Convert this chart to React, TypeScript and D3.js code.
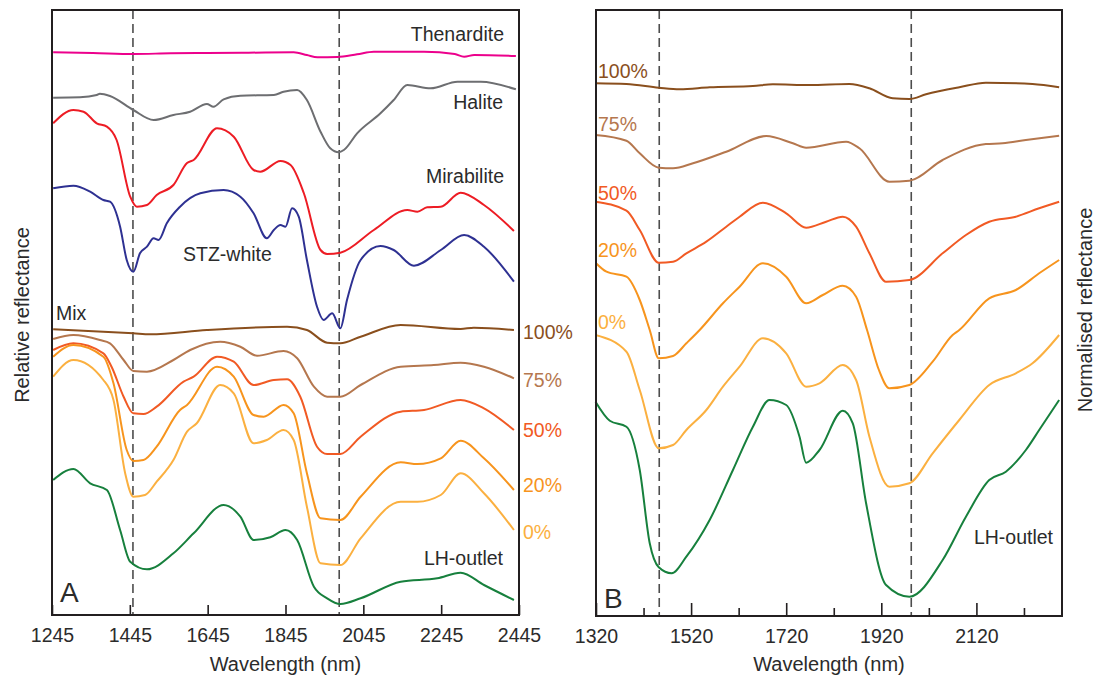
import { useEffect, useRef } from 'react';
import * as d3 from 'd3';

// ---- panel A: relative reflectance (offset, arbitrary units) ----
const thenarditeNm = [1248, 1350, 1454, 1550, 1643, 1750, 1866, 1900, 1927, 1978, 2029, 2072, 2201, 2280, 2304, 2330, 2437];
const thenarditeR = [56.27, 56.2, 56.1, 56.17, 56.2, 56.23, 56.27, 56.0, 55.77, 55.8, 56.07, 56.33, 56.33, 56.1, 55.83, 56.0, 55.9];

const haliteNm = [1248, 1317, 1360, 1368, 1394, 1454, 1506, 1557, 1600, 1643, 1660, 1686, 1729, 1815, 1840, 1875, 1900, 1935, 1960, 1982, 1995, 2029, 2089, 2123, 2158, 2218, 2287, 2347, 2437];
const haliteR = [51.73, 51.77, 52.0, 52.13, 51.9, 50.5, 49.5, 50.0, 50.33, 51.1, 50.83, 51.57, 51.93, 52.0, 52.33, 52.5, 51.5, 48.33, 46.67, 46.27, 46.5, 48.17, 50.17, 51.5, 53.0, 52.67, 53.33, 53.33, 52.57];

const mirabiliteNm = [1248, 1300, 1326, 1360, 1386, 1411, 1446, 1463, 1489, 1514, 1557, 1592, 1609, 1669, 1712, 1763, 1780, 1832, 1858, 1892, 1935, 1952, 1986, 2072, 2158, 2184, 2209, 2244, 2295, 2355, 2432];
const mirabiliteR = [49.17, 50.5, 50.33, 49.17, 48.83, 47.5, 41.83, 40.83, 41.0, 42.0, 43.0, 45.2, 45.5, 48.67, 47.83, 44.5, 44.33, 45.4, 45.0, 42.2, 36.5, 36.1, 36.23, 38.5, 40.5, 40.33, 40.77, 40.83, 42.23, 41.0, 38.4];

const stzNm = [1248, 1300, 1343, 1377, 1394, 1420, 1437, 1454, 1471, 1489, 1506, 1519, 1540, 1574, 1626, 1686, 1729, 1763, 1797, 1815, 1832, 1845, 1862, 1879, 1900, 1926, 1943, 1965, 1986, 2003, 2038, 2089, 2123, 2175, 2244, 2304, 2355, 2432];
const stzR = [42.67, 42.93, 42.33, 41.5, 41.33, 38.83, 35.5, 34.33, 36.17, 36.83, 37.67, 37.5, 39.17, 40.83, 42.17, 42.5, 41.83, 40.17, 37.67, 38.5, 39.0, 38.83, 40.67, 39.83, 35.5, 30.83, 29.5, 30.17, 28.67, 31.5, 35.5, 36.9, 36.5, 34.93, 36.5, 38.0, 36.83, 33.33];

const mix100Nm = [1248, 1454, 1497, 1643, 1849, 1900, 1952, 1986, 2038, 2141, 2295, 2329, 2432];
const mix100R = [28.57, 28.17, 28.07, 28.5, 28.83, 28.5, 27.23, 27.17, 27.83, 29.0, 28.6, 28.73, 28.5];

const mix75Nm = [1248, 1300, 1368, 1394, 1429, 1454, 1489, 1557, 1600, 1677, 1729, 1772, 1840, 1875, 1918, 1952, 1986, 2038, 2141, 2226, 2295, 2355, 2432];
const mix75R = [27.6, 28.0, 27.5, 27.17, 25.5, 24.4, 24.33, 25.5, 26.5, 27.33, 26.83, 25.93, 26.4, 25.67, 22.83, 21.83, 21.83, 23.0, 24.83, 25.0, 25.23, 24.83, 23.67];

const mix50Nm = [1248, 1300, 1377, 1398, 1429, 1454, 1480, 1514, 1583, 1609, 1669, 1712, 1763, 1815, 1849, 1883, 1926, 1952, 1986, 2038, 2141, 2201, 2295, 2355, 2432];
const mix50R = [26.5, 27.17, 26.17, 24.83, 21.83, 20.17, 20.1, 20.83, 23.33, 23.83, 25.83, 25.33, 23.0, 23.5, 23.57, 21.83, 16.83, 16.1, 16.1, 17.83, 20.33, 20.5, 21.5, 20.67, 18.5];

const mix20Nm = [1248, 1300, 1377, 1403, 1437, 1454, 1480, 1514, 1574, 1592, 1669, 1712, 1763, 1789, 1840, 1866, 1900, 1935, 1986, 2038, 2141, 2184, 2244, 2295, 2355, 2432];
const mix20R = [25.83, 27.0, 25.83, 23.17, 16.5, 15.4, 15.5, 16.83, 20.5, 21.0, 24.83, 23.83, 20.0, 19.83, 21.0, 20.17, 14.17, 9.67, 9.5, 11.83, 15.27, 15.1, 15.67, 17.43, 15.67, 12.5];

const mix0Nm = [1248, 1300, 1377, 1403, 1433, 1454, 1484, 1514, 1557, 1592, 1617, 1677, 1712, 1763, 1797, 1840, 1866, 1900, 1935, 1986, 2038, 2141, 2184, 2244, 2295, 2355, 2432];
const mix0R = [23.83, 25.5, 23.5, 21.5, 14.17, 11.83, 12.0, 13.33, 15.5, 18.33, 19.17, 23.0, 22.17, 17.17, 17.5, 18.5, 17.5, 10.83, 5.17, 5.0, 7.67, 11.33, 11.33, 12.0, 14.17, 12.17, 8.5];

const lhANm = [1248, 1300, 1343, 1386, 1420, 1446, 1489, 1557, 1609, 1686, 1729, 1763, 1806, 1845, 1875, 1918, 1952, 1986, 2038, 2141, 2235, 2295, 2355, 2432];
const lhAR = [13.5, 14.6, 13.17, 12.5, 8.5, 5.33, 4.57, 6.17, 8.17, 11.0, 9.83, 7.5, 7.77, 8.5, 7.5, 2.83, 1.67, 1.1, 1.67, 3.33, 3.67, 4.23, 3.0, 1.5];

// ---- panel B: normalised reflectance ----
const b100Nm = [1319, 1384, 1452, 1496, 1559, 1650, 1692, 1769, 1853, 1895, 1944, 1979, 2014, 2084, 2140, 2238, 2294];
const b100R = [53.27, 53.2, 52.83, 52.67, 52.87, 53.0, 53.17, 53.1, 53.2, 52.77, 51.77, 51.7, 52.17, 52.87, 53.33, 53.2, 52.87];

const b75Nm = [1319, 1384, 1412, 1452, 1482, 1524, 1594, 1678, 1734, 1762, 1846, 1874, 1937, 1979, 2049, 2140, 2175, 2224, 2294];
const b75R = [48.1, 47.53, 46.27, 44.83, 44.77, 45.27, 46.43, 48.0, 47.27, 46.83, 47.43, 46.77, 43.43, 43.53, 45.6, 47.2, 47.27, 47.6, 48.03];

const b50Nm = [1319, 1384, 1412, 1452, 1482, 1510, 1552, 1594, 1622, 1671, 1720, 1762, 1804, 1839, 1867, 1895, 1930, 1979, 2049, 2098, 2147, 2203, 2252, 2294];
const b50R = [41.43, 40.53, 38.6, 35.33, 35.43, 36.27, 37.43, 38.93, 39.93, 41.33, 40.27, 38.83, 39.43, 39.93, 38.93, 36.27, 33.43, 33.6, 36.27, 38.1, 39.43, 39.93, 40.77, 41.43];

const b20Nm = [1319, 1342, 1384, 1412, 1433, 1452, 1482, 1510, 1538, 1587, 1622, 1671, 1720, 1762, 1797, 1839, 1867, 1890, 1915, 1937, 1979, 2028, 2070, 2084, 2147, 2203, 2252, 2294];
const b20R = [35.33, 34.43, 33.93, 31.6, 28.6, 25.77, 26.0, 27.27, 28.6, 31.27, 32.93, 35.27, 33.93, 31.27, 32.1, 33.03, 31.93, 28.6, 24.6, 22.77, 23.1, 25.43, 28.1, 28.6, 31.77, 32.6, 34.27, 35.6];

const b0Nm = [1319, 1384, 1412, 1452, 1482, 1510, 1552, 1587, 1622, 1671, 1720, 1762, 1790, 1839, 1867, 1895, 1937, 1979, 2028, 2084, 2147, 2203, 2238, 2294];
const b0R = [28.1, 26.43, 22.6, 16.77, 17.1, 18.6, 20.6, 22.93, 24.93, 27.77, 26.27, 22.93, 23.27, 25.1, 23.6, 17.93, 12.93, 13.27, 16.27, 19.6, 23.1, 24.27, 25.27, 28.1];

const lhBNm = [1319, 1349, 1384, 1412, 1433, 1452, 1479, 1510, 1559, 1608, 1650, 1685, 1720, 1748, 1762, 1790, 1839, 1860, 1888, 1930, 1979, 2049, 2098, 2147, 2182, 2224, 2252, 2294];
const lhBR = [21.43, 19.53, 18.93, 14.6, 7.27, 4.87, 4.27, 5.93, 9.6, 14.6, 18.93, 21.6, 21.1, 17.93, 15.33, 16.6, 20.53, 19.27, 11.27, 3.1, 1.93, 5.6, 9.93, 13.6, 14.43, 16.6, 18.6, 21.6];

const ticksA = [1245, 1445, 1645, 1845, 2045, 2245, 2445];
const ticksB = [1320, 1520, 1720, 1920, 2120];
const minorB = [1420, 1620, 1820, 2020, 2220];
const bands = [1453, 1983];
const mixLabels = ['100%', '75%', '50%', '20%', '0%'];

const C = {
  then: '#ec008c', hal: '#6d6e71', mir: '#ed1c24', stz: '#2e3192',
  m100: '#8a4f1d', m75: '#b5774e', m50: '#f15a24', m20: '#f7941d', m0: '#fbb040',
  lh: '#17803d', ink: '#231f20', txt: '#2b2b2b',
};
const mixColors = [C.m100, C.m75, C.m50, C.m20, C.m0];
const FONT = 'Liberation Sans, Arial, sans-serif';

const SpectraChart = () => {
  const ref = useRef(null);

  useEffect(() => {
    const svg = d3.select(ref.current);
    svg.selectAll('*').remove();

    const xA = d3.scaleLinear().domain([1245, 2445]).range([52, 519]);
    const yA = d3.scaleLinear().domain([0, 60.5]).range([615, 10]);
    const xB = d3.scaleLinear().domain([1320, 2300]).range([596, 1062]);
    const yB = d3.scaleLinear().domain([0, 60.6]).range([616, 10]);

    const drawSeries = (x, y, nm, r, color) => {
      const line = d3
        .line()
        .x((d) => x(d[0]))
        .y((d) => y(d[1]))
        .curve(d3.curveMonotoneX);
      svg
        .append('path')
        .attr('d', line(d3.zip(nm, r)))
        .attr('fill', 'none')
        .attr('stroke', color)
        .attr('stroke-width', 2)
        .attr('stroke-linejoin', 'round');
    };

    const text = (x, y, s, opts = {}) => {
      const t = svg
        .append('text')
        .attr('x', x)
        .attr('y', y)
        .attr('font-family', FONT)
        .attr('font-size', opts.size || 19.5)
        .attr('fill', opts.fill || C.txt)
        .attr('text-anchor', opts.anchor || 'start')
        .text(s);
      if (opts.rotate) t.attr('transform', `rotate(-90,${x},${y})`);
      return t;
    };

    // dashed band markers
    bands.forEach((b) => {
      [[xA, yA], [xB, yB]].forEach(([x, y]) => {
        svg
          .append('line')
          .attr('x1', x(b))
          .attr('x2', x(b))
          .attr('y1', y.range()[1])
          .attr('y2', y.range()[0])
          .attr('stroke', '#4d4d4d')
          .attr('stroke-width', 1.6)
          .attr('stroke-dasharray', '9,5');
      });
    });

    // panel A series
    drawSeries(xA, yA, thenarditeNm, thenarditeR, C.then);
    drawSeries(xA, yA, haliteNm, haliteR, C.hal);
    drawSeries(xA, yA, mirabiliteNm, mirabiliteR, C.mir);
    drawSeries(xA, yA, stzNm, stzR, C.stz);
    drawSeries(xA, yA, mix100Nm, mix100R, C.m100);
    drawSeries(xA, yA, mix75Nm, mix75R, C.m75);
    drawSeries(xA, yA, mix50Nm, mix50R, C.m50);
    drawSeries(xA, yA, mix20Nm, mix20R, C.m20);
    drawSeries(xA, yA, mix0Nm, mix0R, C.m0);
    drawSeries(xA, yA, lhANm, lhAR, C.lh);

    // panel B series
    drawSeries(xB, yB, b100Nm, b100R, C.m100);
    drawSeries(xB, yB, b75Nm, b75R, C.m75);
    drawSeries(xB, yB, b50Nm, b50R, C.m50);
    drawSeries(xB, yB, b20Nm, b20R, C.m20);
    drawSeries(xB, yB, b0Nm, b0R, C.m0);
    drawSeries(xB, yB, lhBNm, lhBR, C.lh);

    // axes (inward ticks)
    const axA = svg
      .append('g')
      .attr('transform', `translate(0,${yA.range()[0]})`)
      .call(d3.axisBottom(xA).tickValues(ticksA).tickFormat(d3.format('d')).tickSize(-10).tickPadding(13));
    const minorAx = svg
      .append('g')
      .attr('transform', `translate(0,${yB.range()[0]})`)
      .call(d3.axisBottom(xB).tickValues(minorB).tickFormat(() => '').tickSize(-8));
    const axB = svg
      .append('g')
      .attr('transform', `translate(0,${yB.range()[0]})`)
      .call(d3.axisBottom(xB).tickValues(ticksB).tickFormat(d3.format('d')).tickSize(-13).tickPadding(13));
    [axA, axB, minorAx].forEach((g) => {
      g.select('.domain').remove();
      g.selectAll('line').attr('stroke', C.ink).attr('stroke-width', 1.6);
      g.selectAll('text').attr('font-family', FONT).attr('font-size', 19.5).attr('fill', C.txt);
    });

    // frames
    [[xA, yA], [xB, yB]].forEach(([x, y]) => {
      svg
        .append('rect')
        .attr('x', x.range()[0])
        .attr('y', y.range()[1])
        .attr('width', x.range()[1] - x.range()[0])
        .attr('height', y.range()[0] - y.range()[1])
        .attr('fill', 'none')
        .attr('stroke', C.ink)
        .attr('stroke-width', 2);
    });

    // titles
    text(285.5, 671, 'Wavelength (nm)', { anchor: 'middle', size: 20 });
    text(829, 671, 'Wavelength (nm)', { anchor: 'middle', size: 20 });
    text(29, 315, 'Relative reflectance', { anchor: 'middle', size: 20, rotate: true });
    text(1092, 310, 'Normalised reflectance', { anchor: 'middle', size: 20, rotate: true });

    // series labels panel A
    text(504, 41, 'Thenardite', { anchor: 'end' });
    text(503, 109, 'Halite', { anchor: 'end' });
    text(504, 183, 'Mirabilite', { anchor: 'end' });
    text(183, 261, 'STZ-white');
    text(56, 320, 'Mix');
    text(503, 565, 'LH-outlet', { anchor: 'end' });
    text(60, 602, 'A', { size: 28 });

    const pctA = [339, 387, 437, 492, 539];
    const pctB = [78, 131, 200, 257, 329];
    mixLabels.forEach((s, i) => {
      text(523, pctA[i], s, { fill: mixColors[i] });
      text(598, pctB[i], s, { fill: mixColors[i] });
    });

    text(1053, 544, 'LH-outlet', { anchor: 'end' });
    text(604, 608, 'B', { size: 28 });
  }, [ref]);

  return (
    <svg
      ref={ref}
      width={1097}
      height={677}
      style={{ position: 'absolute', left: 0, top: 0, background: '#fff' }}
    />
  );
};

export default function App() {
  return (
    <div>
      <SpectraChart />
    </div>
  );
}
